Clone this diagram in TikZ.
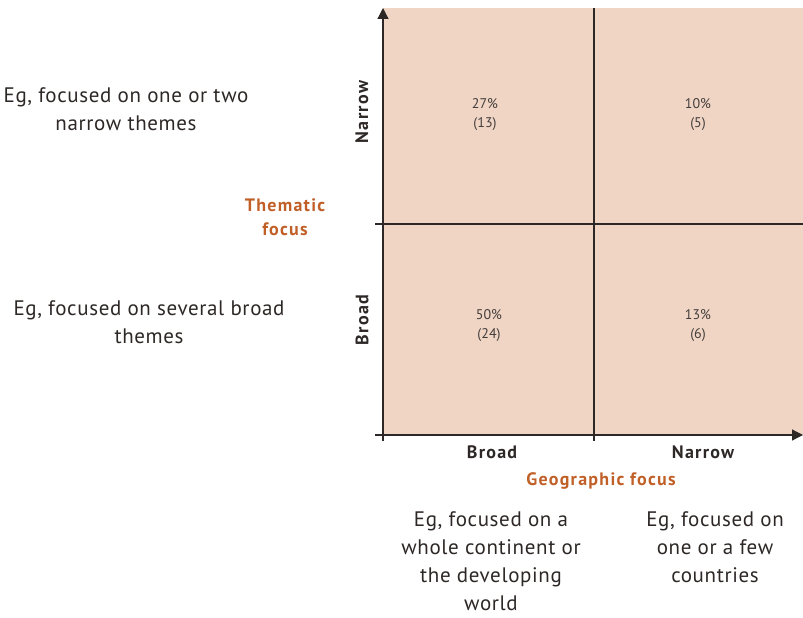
\documentclass[tikz,border=0pt]{standalone}
\usepackage{fontspec}
\setmainfont{PT Sans}
\newfontfamily\notefont[LetterSpace=3]{PT Sans}
\newfontfamily\labelfont[LetterSpace=7]{PT Sans}
\usetikzlibrary{arrows.meta,positioning}
\definecolor{quadfill}{RGB}{240,213,196}
\definecolor{focusorange}{RGB}{192,96,40}
\definecolor{axisgray}{RGB}{45,40,38}

\begin{document}
\begin{tikzpicture}[x=1pt, y=-1pt]

  \tikzset{axis/.style = {draw=axisgray, line width=1.2pt},
    cell/.style = {align=center, font=\fontsize{14}{19}\selectfont, text=axisgray!90},
    level/.style = {font=\labelfont\fontsize{18}{20}\selectfont\bfseries, text=axisgray},
    focus/.style = {align=center, font=\labelfont\fontsize{18}{24}\selectfont\bfseries, text=focusorange},
    note/.style = {align=center, font=\notefont\fontsize{21}{28}\selectfont, text=axisgray}}
  \useasboundingbox (0,0) rectangle (803,618);

  % quadrant area
  \fill[quadfill] (383,8) rectangle (803,435);
  \coordinate (origin) at (383,435);
  \coordinate (ytop) at (383,8);
  \coordinate (xend) at (803,435);
  \coordinate (xleft) at (375,435);
  \coordinate (ybot) at (383,441);
  \draw[axis, -{Triangle[length=11pt,width=11pt]}] (ybot) -- (ytop);
  \draw[axis, -{Triangle[length=11pt,width=11pt]}] (xleft) -- (xend);
  \coordinate (vtop) at (594,8);
  \coordinate (vbot) at (594,441);
  \coordinate (hleft) at (375,224);
  \coordinate (hright) at (803,224);
  \draw[axis] (vtop) -- (vbot);
  \draw[axis] (hleft) -- (hright);

  % cells
  \node[cell] (nb) at (485,115) {27\%\\(13)};
  \node[cell] (nn) at (698,115) {10\%\\(5)};
  \node[cell] (bb) at (489,326) {50\%\\(24)};
  \node[cell] (bn) at (698,326) {13\%\\(6)};

  % axis levels
  \node[level, rotate=90] (ynarrow) at (362,112) {Narrow};
  \node[level, rotate=90] (ybroad) at (362,320) {Broad};
  \node[level] (xbroad) at (492,452) {Broad};
  \node[level] (xnarrow) at (703,452) {Narrow};

  % focus labels
  \node[focus] (thematic) at (285,217) {Thematic\\focus};
  \node[focus] (geographic) at (601,481) {Geographic focus};

  % examples
  \node[note] (egnarrowt) at (126,109) {Eg, focused on one or two\\narrow themes};
  \node[note] (egbroadt) at (149,322) {Eg, focused on several broad\\themes};
  \node[note, anchor=north] (egbroadg) at (491,508) {Eg, focused on a\\whole continent or\\the developing\\world};
  \node[note, anchor=north] (egnarrowg) at (715,508) {Eg, focused on\\one or a few\\countries};

\end{tikzpicture}
\end{document}
